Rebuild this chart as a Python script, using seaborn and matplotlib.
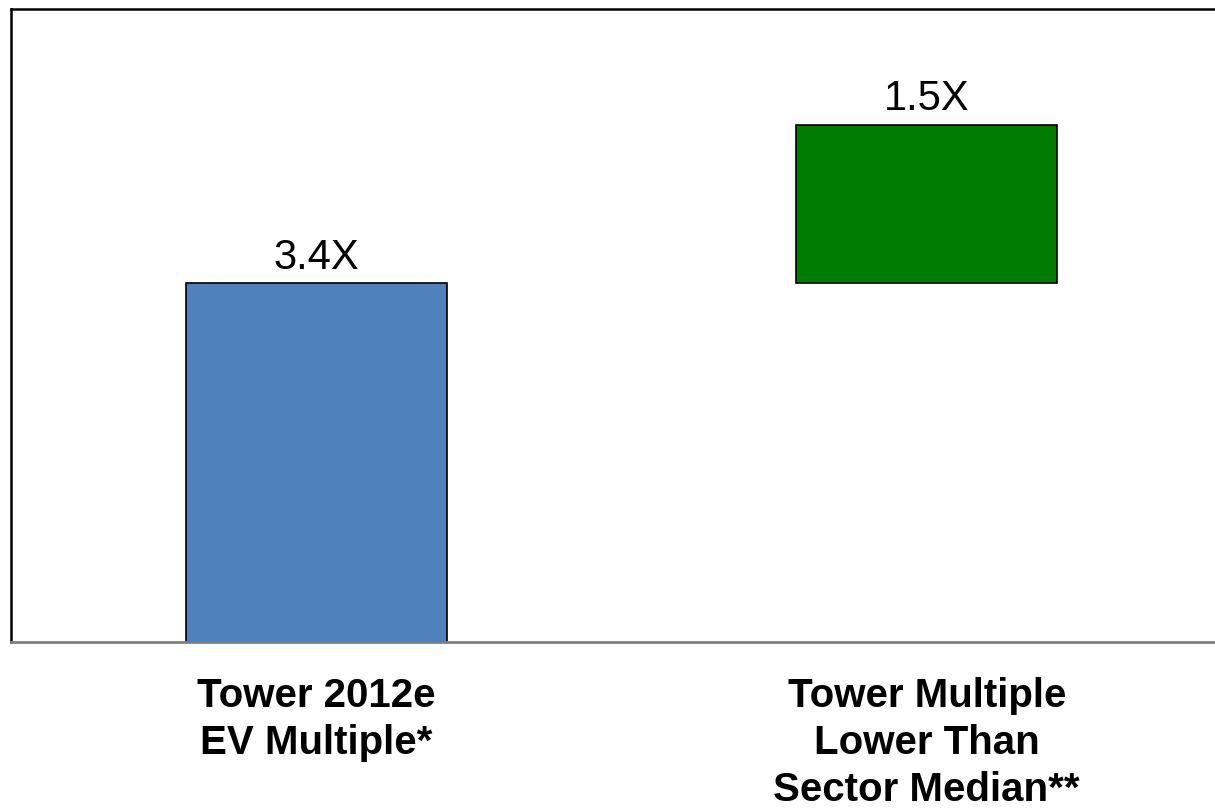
import matplotlib
matplotlib.use("Agg")
import matplotlib.pyplot as plt
import seaborn as sns
import pandas as pd

# Waterfall step: EV multiple and the discount to the sector median
categories = ["Tower 2012e\nEV Multiple*", "Tower Multiple\nLower Than\nSector Median**"]
values = [3.4, 1.5]
bases = [0.0, 3.4]
value_labels = ["3.4X", "1.5X"]
colors = ["#4F81BD", "#007D00"]

sns.set_theme(style="white")
plt.rcParams["font.family"] = ["Liberation Sans", "DejaVu Sans"]

fig = plt.figure(figsize=(12.15, 8.08), dpi=100)
ax = fig.add_axes([11 / 1215, 166 / 808, 1221 / 1215, 633 / 808])

# one floating bar per step, each resting on the previous running total
for cat, val, base, col, lab in zip(categories, values, bases, colors, value_labels):
    df = pd.DataFrame({"category": [cat], "value": [val]})
    sns.barplot(data=df, x="category", y="value", order=categories, color=col,
                saturation=1, bottom=base, width=0.428, edgecolor="black",
                linewidth=1.2, ax=ax)
    ax.bar_label(ax.containers[-1], labels=[lab], padding=4, fontsize=30,
                 color="black")

ax.set_xlim(-0.5, 1.5)
ax.set_ylim(0, 6)
ax.set_xlabel("")
ax.set_ylabel("")
ax.set_yticks([])
ax.tick_params(axis="x", length=0, pad=25)
for t in ax.get_xticklabels():
    t.set_fontsize(29)
    t.set_fontweight("bold")
    t.set_color("black")
    t.set_linespacing(1.3)

for side in ("top", "left", "right"):
    ax.spines[side].set_visible(True)
    ax.spines[side].set_color("black")
    ax.spines[side].set_linewidth(1.8)
ax.spines["bottom"].set_color("#808080")
ax.spines["bottom"].set_linewidth(2)

fig.savefig("out.png", dpi=100)
